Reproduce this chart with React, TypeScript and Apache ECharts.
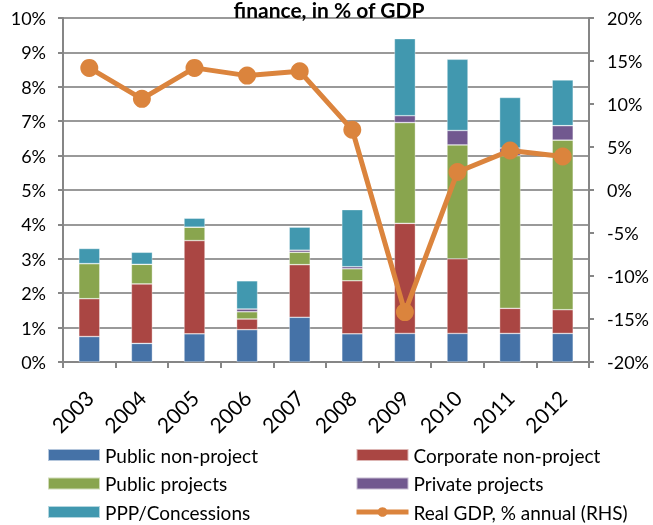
import React, { useEffect, useRef } from "react";
import * as echarts from "echarts";

const years = ["2003", "2004", "2005", "2006", "2007", "2008", "2009", "2010", "2011", "2012"];
const publicNonProject = [0.74, 0.54, 0.82, 0.94, 1.30, 0.82, 0.83, 0.83, 0.83, 0.83];
const corporateNonProject = [1.10, 1.73, 2.71, 0.31, 1.53, 1.54, 3.20, 2.17, 0.73, 0.69];
const publicProjects = [1.02, 0.57, 0.39, 0.21, 0.36, 0.35, 2.93, 3.31, 4.44, 4.93];
const privateProjects = [0.0, 0.0, 0.0, 0.08, 0.06, 0.06, 0.20, 0.42, 0.22, 0.42];
const pppConcessions = [0.44, 0.35, 0.26, 0.82, 0.67, 1.66, 2.24, 2.07, 1.47, 1.33];
const realGdp = [14.2, 10.6, 14.2, 13.3, 13.8, 7.0, -14.2, 2.1, 4.6, 3.9];

const FONT = "Lato, 'Open Sans', sans-serif";

export default function App() {
  const ref = useRef<HTMLDivElement>(null);
  useEffect(() => {
    if (!ref.current) return;
    const chart = echarts.init(ref.current, undefined, { renderer: "svg" });
    const barCommon = {
      type: "bar" as const,
      stack: "total",
      barWidth: 21,
      itemStyle: { borderColor: "rgba(255,255,255,0.6)", borderWidth: 0.6 },
    };
    const legendText = { fontFamily: FONT, fontSize: 19, color: "#000", lineHeight: 20 };
    chart.setOption({
      animation: false,
      textStyle: { fontFamily: FONT },
      title: {
        text: "finance, in % of GDP",
        left: 329,
        textAlign: "center",
        top: -1,
        padding: 0,
        textStyle: { fontFamily: FONT, fontSize: 21, fontWeight: "bold", color: "#000", lineHeight: 21 },
      },
      grid: { left: 63, right: 64, top: 18, bottom: 163, containLabel: false },
      legend: [
        {
          orient: "vertical",
          left: 47,
          top: 445,
          padding: 0,
          itemWidth: 52,
          itemHeight: 12,
          itemGap: 8.5,
          data: ["Public non-project", "Public projects", "PPP/Concessions"],
          textStyle: legendText,
          icon: "rect",
        },
        {
          orient: "vertical",
          left: 354,
          top: 445,
          padding: 0,
          itemWidth: 52,
          itemHeight: 12,
          itemGap: 8.5,
          data: [
            { name: "Corporate non-project", icon: "rect" },
            { name: "Private projects", icon: "rect" },
            { name: "Real GDP, % annual (RHS)", lineStyle: { width: 5 } },
          ],
          textStyle: legendText,
        },
      ],
      xAxis: {
        type: "category",
        data: years,
        axisLine: { lineStyle: { color: "#868686", width: 2 } },
        axisTick: { show: true, length: 6, lineStyle: { color: "#868686", width: 2 } },
        axisLabel: { rotate: 45, fontSize: 21, color: "#000", fontFamily: FONT, margin: 32 },
      },
      yAxis: [
        {
          type: "value",
          min: 0,
          max: 10,
          interval: 1,
          axisLine: { show: true, lineStyle: { color: "#868686", width: 2 } },
          axisTick: { show: true, length: 5, lineStyle: { color: "#868686", width: 2 } },
          axisLabel: { formatter: "{value}%", fontSize: 18, color: "#000", fontFamily: FONT, margin: 17 },
          splitLine: { show: true, lineStyle: { color: "#999999", width: 2 } },
        },
        {
          type: "value",
          min: -20,
          max: 20,
          interval: 5,
          position: "right",
          axisLine: { show: true, lineStyle: { color: "#868686", width: 2 } },
          axisTick: { show: true, length: 5, lineStyle: { color: "#868686", width: 2 } },
          axisLabel: { formatter: "{value}%", fontSize: 18, color: "#000", fontFamily: FONT, margin: 18 },
          splitLine: { show: false },
        },
      ],
      series: [
        { ...barCommon, name: "Public non-project", data: publicNonProject, itemStyle: { ...barCommon.itemStyle, color: "#4572A7" } },
        { ...barCommon, name: "Corporate non-project", data: corporateNonProject, itemStyle: { ...barCommon.itemStyle, color: "#AA4643" } },
        { ...barCommon, name: "Public projects", data: publicProjects, itemStyle: { ...barCommon.itemStyle, color: "#89A54E" } },
        { ...barCommon, name: "Private projects", data: privateProjects, itemStyle: { ...barCommon.itemStyle, color: "#71588F" } },
        { ...barCommon, name: "PPP/Concessions", data: pppConcessions, itemStyle: { ...barCommon.itemStyle, color: "#4198AF" } },
        {
          type: "line",
          name: "Real GDP, % annual (RHS)",
          yAxisIndex: 1,
          data: realGdp,
          symbol: "circle",
          symbolSize: 18,
          lineStyle: { color: "#DB843D", width: 5 },
          itemStyle: { color: "#DB843D" },
          z: 5,
        },
      ],
    });
    return () => chart.dispose();
  }, []);
  return <div ref={ref} style={{ position: "fixed", left: 0, top: 0, width: 653, height: 525 }} />;
}
